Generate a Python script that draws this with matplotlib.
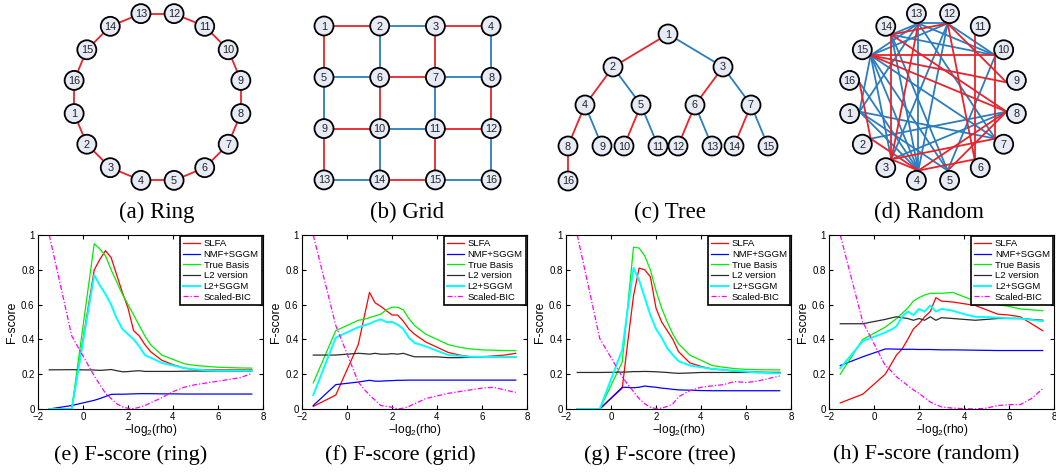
import numpy as np
import matplotlib.pyplot as plt
from matplotlib.patches import Circle
from matplotlib.ticker import FuncFormatter

plt.rcParams['font.family'] = ['Liberation Sans', 'DejaVu Sans']
plt.rcParams['mathtext.default'] = 'regular'

# ---------------- data ----------------
x = [-1.5, -0.5, 0.5, 0.75, 1.0, 1.25, 1.5, 1.75, 2.0, 2.25, 2.5, 2.75,
     3.0, 3.5, 4.0, 4.5, 5.0, 5.5, 6.0, 6.5, 7.0, 7.5]

labels = ['SLFA', 'NMF+SGGM', 'True Basis', 'L2 version', 'L2+SGGM', 'Scaled-BIC']

# ring
slfa_ring = [0, 0, 0.80, 0.86, 0.91, 0.87, 0.77, 0.67, 0.58, 0.45, 0.42, 0.37,
             0.33, 0.28, 0.255, 0.235, 0.225, 0.225, 0.225, 0.225, 0.225, 0.225]
nmf_ring = [0, 0.02, 0.05, 0.06, 0.072, 0.084, 0.085, 0.085, 0.086, 0.087, 0.088, 0.088,
            0.088, 0.087, 0.087, 0.086, 0.086, 0.086, 0.086, 0.086, 0.086, 0.086]
true_ring = [0, 0, 0.95, 0.92, 0.88, 0.80, 0.73, 0.66, 0.60, 0.54, 0.48, 0.42,
             0.37, 0.31, 0.285, 0.26, 0.25, 0.245, 0.24, 0.238, 0.236, 0.235]
l2_ring = [0.225, 0.226, 0.224, 0.222, 0.224, 0.227, 0.22, 0.214, 0.215, 0.218, 0.22, 0.216,
           0.216, 0.216, 0.216, 0.217, 0.218, 0.218, 0.218, 0.218, 0.218, 0.218]
l2sggm_ring = [0, 0, 0.77, 0.71, 0.66, 0.60, 0.52, 0.46, 0.43, 0.40, 0.36, 0.31,
               0.295, 0.265, 0.25, 0.235, 0.228, 0.222, 0.22, 0.22, 0.22, 0.22]
bic_ring = [1.0, 0.42, 0.19, 0.14, 0.09, 0.06, 0.03, 0.012, 0.004, 0.002, 0.01, 0.02,
            0.035, 0.065, 0.1, 0.125, 0.14, 0.15, 0.16, 0.17, 0.18, 0.205]

# grid
slfa_grid = [0.015, 0.08, 0.37, 0.52, 0.67, 0.61, 0.59, 0.565, 0.54, 0.54, 0.505, 0.46,
             0.43, 0.385, 0.355, 0.325, 0.31, 0.30, 0.30, 0.305, 0.31, 0.32]
nmf_grid = [0.02, 0.14, 0.155, 0.16, 0.165, 0.16, 0.16, 0.162, 0.163, 0.165, 0.165, 0.166,
            0.166, 0.166, 0.166, 0.166, 0.166, 0.166, 0.166, 0.166, 0.166, 0.166]
true_grid = [0.15, 0.45, 0.51, 0.515, 0.525, 0.535, 0.545, 0.57, 0.585, 0.585, 0.57, 0.52,
             0.48, 0.43, 0.40, 0.37, 0.355, 0.345, 0.34, 0.338, 0.336, 0.335]
l2_grid = [0.31, 0.31, 0.32, 0.318, 0.315, 0.32, 0.315, 0.315, 0.318, 0.315, 0.32, 0.31,
           0.30, 0.30, 0.30, 0.295, 0.295, 0.297, 0.30, 0.30, 0.30, 0.30]
l2sggm_grid = [0.08, 0.41, 0.47, 0.48, 0.49, 0.505, 0.515, 0.50, 0.50, 0.485, 0.46, 0.41,
               0.38, 0.36, 0.335, 0.31, 0.305, 0.30, 0.30, 0.30, 0.30, 0.30]
bic_grid = [1.0, 0.48, 0.155, 0.115, 0.08, 0.05, 0.02, 0.015, 0.01, 0.0, 0.005, 0.015,
            0.03, 0.06, 0.075, 0.09, 0.1, 0.11, 0.12, 0.125, 0.11, 0.095]

# tree
slfa_tree = [0, 0, 0.12, 0.39, 0.65, 0.81, 0.80, 0.76, 0.58, 0.50, 0.45, 0.40,
             0.33, 0.265, 0.245, 0.23, 0.225, 0.218, 0.215, 0.212, 0.21, 0.21]
nmf_tree = [0, 0, 0.125, 0.124, 0.122, 0.125, 0.132, 0.128, 0.125, 0.12, 0.117, 0.113,
            0.11, 0.108, 0.106, 0.105, 0.105, 0.105, 0.105, 0.105, 0.105, 0.105]
true_tree = [0, 0, 0.27, 0.60, 0.93, 0.925, 0.88, 0.80, 0.68, 0.58, 0.50, 0.43,
             0.375, 0.31, 0.28, 0.25, 0.24, 0.232, 0.228, 0.226, 0.225, 0.225]
l2_tree = [0.21, 0.21, 0.212, 0.213, 0.215, 0.215, 0.216, 0.215, 0.214, 0.212, 0.21, 0.207,
           0.205, 0.207, 0.21, 0.21, 0.21, 0.21, 0.21, 0.21, 0.21, 0.21]
l2sggm_tree = [0, 0, 0.34, 0.58, 0.81, 0.74, 0.64, 0.54, 0.46, 0.41, 0.35, 0.31,
               0.275, 0.25, 0.24, 0.23, 0.225, 0.22, 0.215, 0.21, 0.207, 0.205]
bic_tree = [1.0, 0.405, 0.185, 0.14, 0.1, 0.06, 0.03, 0.01, 0.002, 0.005, 0.015, 0.03,
            0.07, 0.105, 0.125, 0.133, 0.14, 0.158, 0.152, 0.16, 0.175, 0.19]

# random
slfa_rand = [0.035, 0.085, 0.2, 0.255, 0.31, 0.345, 0.40, 0.46, 0.49, 0.53, 0.56, 0.64,
             0.62, 0.615, 0.605, 0.595, 0.57, 0.545, 0.54, 0.53, 0.49, 0.45]
nmf_rand = [0.25, 0.30, 0.345, 0.345, 0.344, 0.343, 0.343, 0.343, 0.342, 0.342, 0.342, 0.341,
            0.34, 0.34, 0.339, 0.338, 0.337, 0.336, 0.336, 0.336, 0.336, 0.336]
true_rand = [0.2, 0.4, 0.47, 0.495, 0.52, 0.55, 0.58, 0.62, 0.64, 0.655, 0.665, 0.665,
             0.665, 0.67, 0.645, 0.62, 0.61, 0.6, 0.59, 0.575, 0.57, 0.565]
l2_rand = [0.49, 0.49, 0.515, 0.523, 0.53, 0.525, 0.52, 0.51, 0.52, 0.51, 0.53, 0.51,
           0.525, 0.52, 0.515, 0.51, 0.515, 0.52, 0.52, 0.52, 0.515, 0.51]
l2sggm_rand = [0.235, 0.39, 0.44, 0.455, 0.475, 0.53, 0.56, 0.54, 0.575, 0.56, 0.595, 0.56,
               0.575, 0.565, 0.545, 0.53, 0.528, 0.525, 0.522, 0.52, 0.512, 0.505]
bic_rand = [1.0, 0.5, 0.25, 0.22, 0.185, 0.16, 0.135, 0.11, 0.09, 0.065, 0.04, 0.025,
            0.012, 0.005, 0.002, 0.0, 0.005, 0.02, 0.025, 0.025, 0.06, 0.117]

panels = [
    ('(e) F-score (ring)', [slfa_ring, nmf_ring, true_ring, l2_ring, l2sggm_ring, bic_ring]),
    ('(f) F-score (grid)', [slfa_grid, nmf_grid, true_grid, l2_grid, l2sggm_grid, bic_grid]),
    ('(g) F-score (tree)', [slfa_tree, nmf_tree, true_tree, l2_tree, l2sggm_tree, bic_tree]),
    ('(h) F-score (random)', [slfa_rand, nmf_rand, true_rand, l2_rand, l2sggm_rand, bic_rand]),
]

# graphs (edge lists, 'r' / 'b' colour code)
ring_n = 16
grid_edges = [(1, 2, 'r'), (2, 3, 'b'), (3, 4, 'r'), (5, 6, 'b'), (6, 7, 'r'), (7, 8, 'b'),
              (9, 10, 'r'), (10, 11, 'b'), (11, 12, 'r'), (13, 14, 'b'), (14, 15, 'r'), (15, 16, 'b'),
              (1, 5, 'r'), (5, 9, 'b'), (9, 13, 'r'), (2, 6, 'b'), (6, 10, 'r'), (10, 14, 'b'),
              (3, 7, 'r'), (7, 11, 'b'), (11, 15, 'r'), (4, 8, 'b'), (8, 12, 'r'), (12, 16, 'b')]
tree_parent = {2: 1, 3: 1, 4: 2, 5: 2, 6: 3, 7: 3, 8: 4, 9: 4, 10: 5, 11: 5,
               12: 6, 13: 6, 14: 7, 15: 7, 16: 8}
rand_edges = [(13, 12, 'b'), (15, 12, 'b'), (15, 13, 'b'), (15, 1, 'b'), (15, 3, 'b'), (15, 4, 'b'),
              (15, 5, 'b'), (15, 7, 'b'), (14, 10, 'b'), (14, 4, 'b'), (14, 13, 'b'), (13, 10, 'b'),
              (13, 4, 'b'), (13, 7, 'b'), (13, 1, 'b'), (12, 10, 'b'), (12, 3, 'b'), (12, 4, 'b'),
              (10, 5, 'b'), (8, 3, 'b'), (7, 1, 'b'), (5, 1, 'b'), (4, 1, 'b'), (16, 4, 'b'),
              (14, 5, 'b'), (8, 2, 'b'),
              (15, 10, 'r'), (15, 9, 'r'), (15, 8, 'r'), (14, 8, 'r'), (14, 3, 'r'), (14, 12, 'r'),
              (13, 3, 'r'), (12, 9, 'r'), (12, 6, 'r'), (11, 6, 'r'), (10, 7, 'r'), (8, 4, 'r'),
              (8, 5, 'r'), (7, 3, 'r'), (4, 3, 'r'), (4, 2, 'r'), (2, 16, 'r'), (6, 4, 'r')]

# ---------------- styles ----------------
W, H = 1056, 476
EDGE = {'r': '#e8232b', 'b': '#2a7dc0'}
NODE_FC = '#e6ebf6'
NODE_R = 9.5
line_styles = [dict(color='#ff0000'), dict(color='#0000ff'), dict(color='#00ee00'),
               dict(color='#2b2b2b'), dict(color='#00ffff', lw=1.4),
               dict(color='#ff00ff', ls=(0, (4, 1.6, 1, 1.6)))]

fig = plt.figure(figsize=(W / 100, H / 100), dpi=100)

# overlay in pixel coordinates for the graph drawings
gax = fig.add_axes([0, 0, 1, 1], zorder=0)
gax.set_xlim(0, W)
gax.set_ylim(H, 0)
gax.axis('off')


def draw_graph(pos, edges, shrink=0.0, center=None):
    for a, b, c in edges:
        (x1, y1), (x2, y2) = pos[a], pos[b]
        if shrink and center is not None:
            cx, cy = center
            v1 = np.array([x1 - cx, y1 - cy]); v2 = np.array([x2 - cx, y2 - cy])
            x1, y1 = np.array([cx, cy]) + v1 * (1 - shrink / np.linalg.norm(v1))
            x2, y2 = np.array([cx, cy]) + v2 * (1 - shrink / np.linalg.norm(v2))
        gax.plot([x1, x2], [y1, y2], color=EDGE[c], lw=1.3, zorder=2,
                 solid_capstyle='butt')
    for k, (px, py) in pos.items():
        gax.add_patch(Circle((px, py), NODE_R, fc=NODE_FC, ec='black', lw=1.3, zorder=3))
        gax.text(px, py + 0.5, str(k), ha='center', va='center', fontsize=7.8,
                 color='#222222', zorder=4)


def circle_layout(cx, cy, r):
    ang = np.deg2rad(191.25 + 22.5 * np.arange(ring_n))
    return {k + 1: (cx + r * np.cos(a), cy - r * np.sin(a)) for k, a in enumerate(ang)}


# (a) ring
pos = circle_layout(157.5, 97, 85)
draw_graph(pos, [(k, k % ring_n + 1, 'r') for k in range(1, ring_n + 1)])

# (b) grid
pos = {n: (324 + 55.7 * ((n - 1) % 4), 26 + 51.3 * ((n - 1) // 4)) for n in range(1, 17)}
draw_graph(pos, grid_edges)

# (c) tree
level_y = [34, 67, 105, 146, 181]
spread = [55, 28, 17]
pos = {1: (668, level_y[0])}
for child in sorted(tree_parent):
    par = tree_parent[child]
    lvl = int(np.log2(child))
    siblings = [c for c in tree_parent if tree_parent[c] == par]
    if len(siblings) == 1:
        dx = 0
    else:
        dx = -spread[lvl - 1] if child % 2 == 0 else spread[lvl - 1]
    pos[child] = (pos[par][0] + dx, level_y[lvl])
tree_edges = [(tree_parent[c], c, 'r' if c % 2 == 0 else 'b') for c in tree_parent]
draw_graph(pos, tree_edges)

# (d) random
pos = circle_layout(933, 97, 85)
draw_graph(pos, rand_edges, shrink=10, center=(933, 97))

for txt, cxp in zip(['(a) Ring', '(b) Grid', '(c) Tree', '(d) Random'], [157, 407, 670, 929]):
    fig.text(cxp / W, 1 - 212 / H, txt, ha='center', va='center', fontsize=16.5,
             family='Liberation Serif')

# ---------------- F-score plots ----------------
lefts = [38, 302, 566, 829]
caption_x = [131, 400, 660, 926]
for (title, series), left, capx in zip(panels, lefts, caption_x):
    ax = fig.add_axes([left / W, 1 - 409 / H, 225 / W, 174 / H], zorder=2)
    for y, lab, st in zip(series, labels, line_styles):
        kw = dict(lw=0.9)
        kw.update(st)
        ax.plot(x, y, label=lab, **kw)
    ax.set_xlim(-2, 8)
    ax.set_ylim(0, 1)
    ax.set_xticks([-2, 0, 2, 4, 6, 8])
    ax.set_yticks([0, 0.2, 0.4, 0.6, 0.8, 1.0])
    ax.yaxis.set_major_formatter(FuncFormatter(lambda v, p: '%g' % v))
    ax.tick_params(direction='in', top=True, right=True, length=3, width=0.8,
                   labelsize=7, pad=2.5)
    for s in ax.spines.values():
        s.set_linewidth(0.8)
    ax.set_ylabel('F-score', fontsize=8.8, labelpad=2)
    ax.set_xlabel('\u2212log$_2$(rho)', fontsize=8.5, labelpad=-0.5)
    leg = ax.legend(loc='upper right', fontsize=6.8, fancybox=False, framealpha=1,
                    edgecolor='black', borderaxespad=0.15, handlelength=1.8,
                    handletextpad=0.4, labelspacing=0.18, borderpad=0.3)
    leg.get_frame().set_linewidth(1.2)
    fig.text(capx / W, 1 - 455 / H, title, ha='center', va='center', fontsize=16,
             family='Liberation Serif')

fig.savefig('out.png', dpi=100)
